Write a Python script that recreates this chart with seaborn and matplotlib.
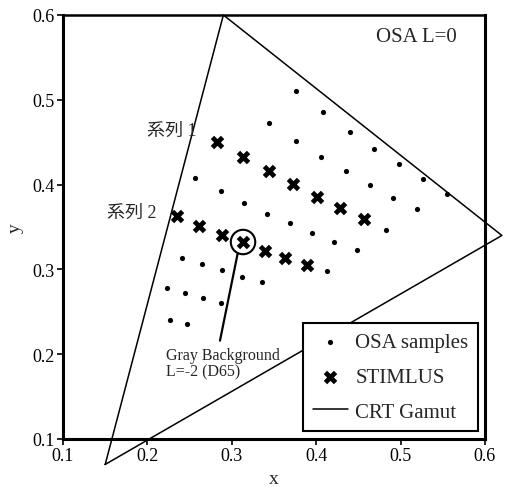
import numpy as np
import pandas as pd
import seaborn as sns
import matplotlib
matplotlib.use("Agg")
import matplotlib.pyplot as plt

# ---- data ----
osa_x = [0.376, 0.408, 0.440, 0.4685, 0.498, 0.5265, 0.555,
         0.344, 0.376, 0.406, 0.435, 0.464, 0.491, 0.519,
         0.483,
         0.256, 0.287, 0.3145, 0.342, 0.369, 0.395, 0.421, 0.448,
         0.413,
         0.241, 0.265, 0.288, 0.312, 0.336,
         0.223, 0.2445, 0.266, 0.287,
         0.227, 0.247]
osa_y = [0.510, 0.486, 0.462, 0.442, 0.424, 0.407, 0.389,
         0.473, 0.451, 0.4325, 0.416, 0.400, 0.384, 0.371,
         0.3465,
         0.408, 0.3925, 0.378, 0.365, 0.355, 0.343, 0.332, 0.323,
         0.298,
         0.313, 0.306, 0.299, 0.291, 0.285,
         0.278, 0.272, 0.266, 0.260,
         0.240, 0.236]

stim_x = [0.2825, 0.3133, 0.344, 0.3725, 0.401, 0.428, 0.4566,
          0.235, 0.261, 0.2884, 0.3133, 0.3393, 0.363, 0.389]
stim_y = [0.450, 0.4325, 0.416, 0.4007, 0.3854, 0.3724, 0.3594,
          0.363, 0.3512, 0.3406, 0.3323, 0.3217, 0.3134, 0.3052]

gamut_x = [0.15, 0.29, 0.62, 0.15]
gamut_y = [0.07, 0.60, 0.34, 0.07]

bg_x = [0.3133]
bg_y = [0.3323]

ticks = [0.1, 0.2, 0.3, 0.4, 0.5, 0.6]
tick_labels = ["0.1", "0.2", "0.3", "0.4", "0.5", "0.6"]

series_labels = ["系列 1", "系列 2"]
legend_labels = ["OSA samples", "STIMLUS", "CRT Gamut"]

# ---- style ----
sns.set_style("ticks")
plt.rcParams['font.family'] = ['Liberation Serif', 'Noto Sans CJK JP']

fig = plt.figure(figsize=(5.07, 4.89), dpi=100)
ax = fig.add_axes([63/507, 1-440/489, 422/507, 424/489])

osa_df = pd.DataFrame({"x": osa_x, "y": osa_y})
stim_df = pd.DataFrame({"x": stim_x, "y": stim_y})
gamut_df = pd.DataFrame({"x": gamut_x, "y": gamut_y})

sns.lineplot(data=gamut_df, x="x", y="y", sort=False, estimator=None,
             color="black", linewidth=1.1, clip_on=False,
             label=legend_labels[2], ax=ax, zorder=2)
sns.scatterplot(data=osa_df, x="x", y="y", s=14, color="black", marker="o",
                linewidth=0, label=legend_labels[0], ax=ax, zorder=3)
sns.scatterplot(data=stim_df, x="x", y="y", s=95, color="black", marker="X",
                linewidth=0, label=legend_labels[1], ax=ax, zorder=3)
sns.scatterplot(x=bg_x, y=bg_y, s=310, marker="o", facecolor="none",
                edgecolor="black", linewidth=1.5, ax=ax, zorder=3,
                legend=False)

# pointer + annotation
ax.annotate("", xy=(0.307, 0.319), xytext=(0.286, 0.216),
            arrowprops=dict(arrowstyle="-", lw=1.6, color="black",
                            shrinkA=0, shrinkB=0))
ax.text(0.222, 0.209, "Gray Background\nL=-2 (D65)", fontsize=11.5,
        ha="left", va="top", linespacing=1.1)

ax.text(0.199, 0.4644, series_labels[0], fontsize=13, ha="left", va="center")
ax.text(0.152, 0.3677, series_labels[1], fontsize=13, ha="left", va="center")
ax.text(0.934, 0.950, "OSA L=0", fontsize=15, ha="right", va="center",
        transform=ax.transAxes)

ax.set_xlim(0.1, 0.6)
ax.set_ylim(0.1, 0.6)
ax.set_xticks(ticks)
ax.set_xticklabels(tick_labels)
ax.set_yticks(ticks)
ax.set_yticklabels(tick_labels)
ax.tick_params(direction="out", length=4, width=1.2, labelsize=13, pad=2,
               colors="black")
ax.set_xlabel("x", fontsize=14, labelpad=4)
ax.set_ylabel("y", fontsize=14, labelpad=6)

for sp in ax.spines.values():
    sp.set_linewidth(2.2)
    sp.set_color("black")
ax.spines["top"].set_linewidth(1.8)

handles, labels = ax.get_legend_handles_labels()
order = [labels.index(l) for l in legend_labels]
leg = ax.legend([handles[i] for i in order], [labels[i] for i in order],
                loc="lower right", bbox_to_anchor=(0.983, 0.019),
                borderaxespad=0, fontsize=15, frameon=True, fancybox=False,
                edgecolor="black", framealpha=1, handlelength=1.7,
                handletextpad=0.35, labelspacing=0.72, borderpad=0.45)
leg.get_frame().set_linewidth(1.5)
leg.set_zorder(5)

fig.savefig("out.png", dpi=100)
